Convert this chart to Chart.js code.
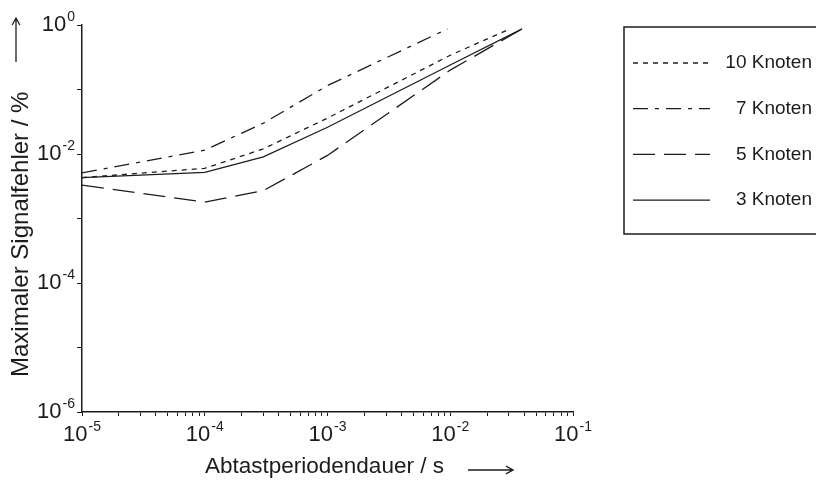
<!DOCTYPE html>
<html lang="de">
<head>
    <meta charset="UTF-8">
    <title>Maximaler Signalfehler</title>
    <script src="https://cdn.jsdelivr.net/npm/chart.js"></script>
    <style>
        body { margin: 0; background: #fff; }
        #wrap { width: 816px; height: 482px; }
    </style>
</head>
<body>
    <div id="wrap">
        <canvas id="errChart" width="816" height="482"></canvas>
    </div>
    <script>
        // Series: sampling period in s, max. error in %
        const labels = ['10 Knoten', '7 Knoten', '5 Knoten', '3 Knoten'];

        const knoten10X = [1e-5, 1e-4, 3e-4, 1e-3, 1e-2, 3.07e-2];
        const knoten10Y = [0.0043, 0.006, 0.012, 0.036, 0.34, 0.87];

        const knoten7X = [1e-5, 1e-4, 3e-4, 1e-3, 9.5e-3];
        const knoten7Y = [0.0051, 0.0115, 0.03, 0.115, 0.87];

        const knoten5X = [1e-5, 1e-4, 3e-4, 1e-3, 1e-2, 3.85e-2];
        const knoten5Y = [0.0033, 0.0018, 0.0027, 0.0095, 0.2, 0.87];

        const knoten3X = [1e-5, 1e-4, 3e-4, 1e-3, 1e-2, 3.85e-2];
        const knoten3Y = [0.0043, 0.0052, 0.009, 0.026, 0.24, 0.87];

        // Axis ticks
        const xDecades = [-5, -4, -3, -2, -1];
        const yDecades = [-6, -4, -2, 0];
        const xTickValues = [];
        for (let e = -5; e < -1; e++) {
            for (let m = 1; m < 10; m++) xTickValues.push(m * Math.pow(10, e));
        }
        xTickValues.push(1e-1);
        const yTickValues = [1e-6, 1e-5, 1e-4, 1e-3, 1e-2, 1e-1, 1e0];

        const dashes = [[5, 5], [15, 7, 4, 7], [22, 9], []];
        const ink = '#1c1c1c';
        const fontFamily = '"Liberation Sans", Arial, sans-serif';

        function toPoints(xs, ys) {
            return xs.map((x, i) => ({ x: x, y: ys[i] }));
        }

        const seriesData = [
            toPoints(knoten10X, knoten10Y),
            toPoints(knoten7X, knoten7Y),
            toPoints(knoten5X, knoten5Y),
            toPoints(knoten3X, knoten3Y)
        ];

        // draws "10" with a raised exponent
        function drawPower(ctx, exp, x, y, align) {
            const base = '10';
            const sup = exp === 0 ? '0' : '-' + Math.abs(exp);
            ctx.font = '22px ' + fontFamily;
            const w1 = ctx.measureText(base).width;
            ctx.font = '14px ' + fontFamily;
            const w2 = ctx.measureText(sup).width;
            const total = w1 + 1 + w2;
            const start = align === 'right' ? x - total : x - total / 2;
            ctx.textAlign = 'left';
            ctx.textBaseline = 'middle';
            ctx.font = '22px ' + fontFamily;
            ctx.fillText(base, start, y);
            ctx.textBaseline = 'alphabetic';
            ctx.font = '14px ' + fontFamily;
            ctx.fillText(sup, start + w1 + 1, y - 4);
        }

        function drawArrow(ctx, x1, y1, x2, y2) {
            const ang = Math.atan2(y2 - y1, x2 - x1);
            ctx.beginPath();
            ctx.moveTo(x1, y1);
            ctx.lineTo(x2, y2);
            ctx.moveTo(x2 - 8 * Math.cos(ang - 0.5), y2 - 8 * Math.sin(ang - 0.5));
            ctx.lineTo(x2, y2);
            ctx.lineTo(x2 - 8 * Math.cos(ang + 0.5), y2 - 8 * Math.sin(ang + 0.5));
            ctx.stroke();
        }

        const decorPlugin = {
            id: 'decor',
            afterDraw(chart) {
                const ctx = chart.ctx;
                const xs = chart.scales.x;
                const ys = chart.scales.y;
                ctx.save();
                ctx.fillStyle = ink;
                ctx.strokeStyle = ink;

                // tick labels
                xDecades.forEach(e => {
                    drawPower(ctx, e, xs.getPixelForValue(Math.pow(10, e)), ys.bottom + 23, 'center');
                });
                yDecades.forEach(e => {
                    drawPower(ctx, e, xs.left - 7, ys.getPixelForValue(Math.pow(10, e)), 'right');
                });

                // axis titles with arrows
                ctx.font = '22.5px ' + fontFamily;
                ctx.textBaseline = 'middle';
                ctx.textAlign = 'left';
                ctx.fillText('Abtastperiodendauer / s', 205, 467);
                ctx.lineWidth = 1.3;
                drawArrow(ctx, 468, 470, 513, 470);

                ctx.save();
                ctx.font = '24px ' + fontFamily;
                ctx.translate(21, 377);
                ctx.rotate(-Math.PI / 2);
                ctx.fillText('Maximaler Signalfehler / %', 0, 0);
                ctx.restore();
                drawArrow(ctx, 16, 62, 16, 18);

                // legend box
                ctx.lineWidth = 1.5;
                ctx.strokeRect(624, 27, 210, 207);
                ctx.font = '19px ' + fontFamily;
                ctx.textAlign = 'right';
                chart.data.datasets.forEach((ds, i) => {
                    const y = 63 + i * 45.7;
                    ctx.lineWidth = 1.3;
                    ctx.setLineDash(ds.borderDash);
                    ctx.beginPath();
                    ctx.moveTo(633, y);
                    ctx.lineTo(710, y);
                    ctx.stroke();
                    ctx.setLineDash([]);
                    ctx.fillText(ds.label, 812, y);
                });
                ctx.restore();
            }
        };

        const tickGrid = {
            display: true,
            drawOnChartArea: false,
            drawTicks: true,
            tickLength: 5,
            color: ink,
            lineWidth: 1
        };

        new Chart(document.getElementById('errChart').getContext('2d'), {
            type: 'line',
            data: {
                datasets: labels.map((lab, i) => ({
                    label: lab,
                    data: seriesData[i],
                    borderColor: ink,
                    borderWidth: 1.3,
                    borderDash: dashes[i],
                    pointRadius: 0,
                    fill: false,
                    tension: 0
                }))
            },
            options: {
                responsive: false,
                animation: false,
                layout: { padding: { top: 25, right: 243, bottom: 0, left: 0 } },
                plugins: {
                    legend: { display: false },
                    tooltip: { enabled: false }
                },
                scales: {
                    x: {
                        type: 'logarithmic',
                        min: 1e-5,
                        max: 1e-1,
                        afterBuildTicks: scale => {
                            scale.ticks = xTickValues.map(v => ({ value: v }));
                        },
                        afterFit: scale => { scale.height = 70; },
                        ticks: { display: false },
                        grid: Object.assign({}, tickGrid, { tickLength: 4 }),
                        border: { display: true, color: ink, width: 1.5 }
                    },
                    y: {
                        type: 'logarithmic',
                        min: 1e-6,
                        max: 1,
                        afterBuildTicks: scale => {
                            scale.ticks = yTickValues.map(v => ({ value: v }));
                        },
                        afterFit: scale => { scale.width = 82; },
                        ticks: { display: false },
                        grid: tickGrid,
                        border: { display: true, color: ink, width: 1.5 }
                    }
                }
            },
            plugins: [decorPlugin]
        });
    </script>
</body>
</html>
